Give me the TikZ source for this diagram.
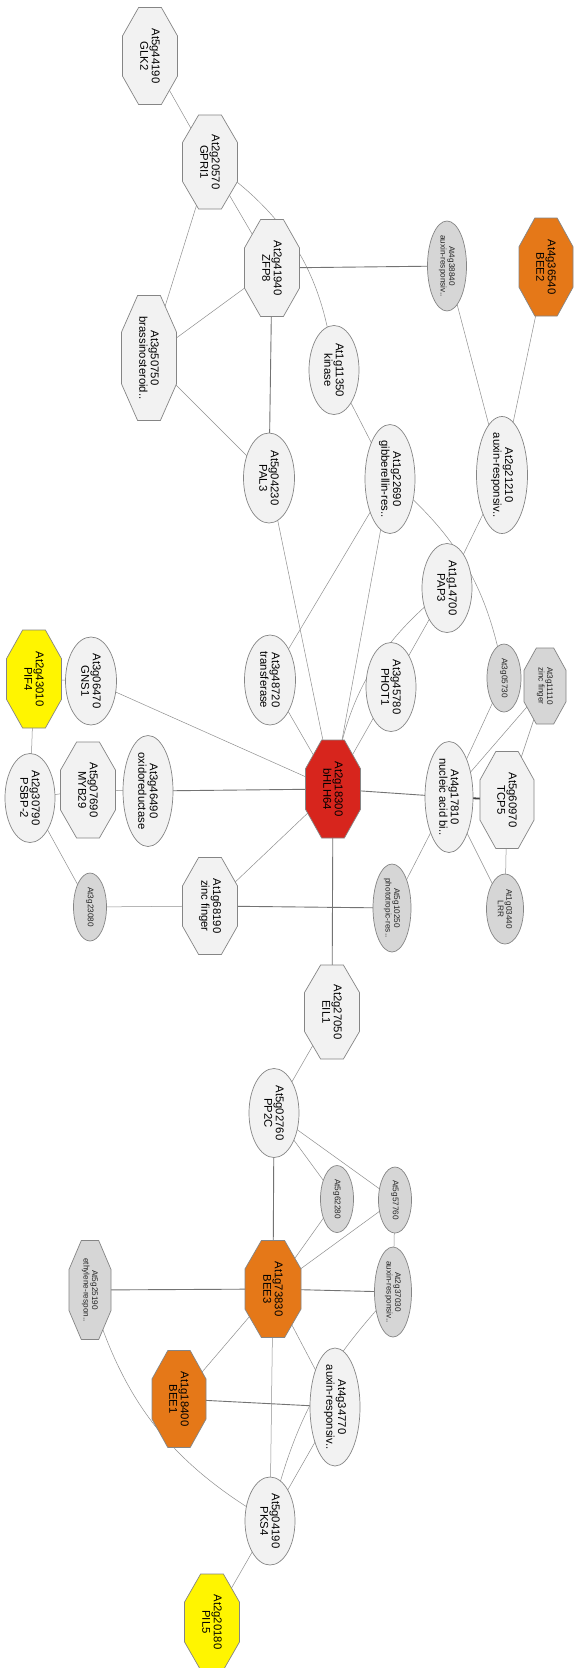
\documentclass[tikz,border=0pt]{standalone}
\usepackage{fontspec}
\setmainfont{Liberation Sans}
\usetikzlibrary{calc,shapes.geometric}
\pgfdeclarelayer{bg}
\pgfsetlayers{bg,main}
\definecolor{lf}{HTML}{F2F2F2}
\definecolor{gf}{HTML}{D6D6D6}
\definecolor{bd}{HTML}{858585}
\definecolor{ec}{HTML}{8F8F8F}
\definecolor{redf}{HTML}{D7251D}
\definecolor{orf}{HTML}{E57818}
\definecolor{yef}{HTML}{FFF500}
\tikzset{
 box/.style={rectangle, draw=none, inner sep=0pt, outer sep=0pt},
 lo/.style={fill=lf, draw=bd, line width=0.7pt},
 go/.style={fill=gf, draw=bd, line width=0.7pt},
 ro/.style={fill=redf, draw=bd, line width=0.7pt},
 oo/.style={fill=orf, draw=bd, line width=0.7pt},
 yo/.style={fill=yef, draw=bd, line width=0.7pt},
 bt/.style={rotate=-90, align=center, inner sep=0pt, text=black, font=\fontsize{11.3}{11.6}\selectfont},
 st/.style={rotate=-90, align=center, inner sep=0pt, text=black!85, font=\fontsize{8.2}{8.5}\selectfont},
 e1/.style={draw=ec, line width=0.5pt},
 e2/.style={draw=black!55, line width=0.9pt},
 e3/.style={draw=black!75, line width=1.8pt},
}
\newcommand\octn[8]{%
 \node[box, minimum width=#6pt, minimum height=#7pt] (#3) at (#4,#5) {};
 \path[#1] ($(#3.north west)!0.293!(#3.north east)$) -- ($(#3.north west)!0.707!(#3.north east)$)
   -- ($(#3.north east)!0.293!(#3.south east)$) -- ($(#3.north east)!0.707!(#3.south east)$)
   -- ($(#3.south east)!0.293!(#3.south west)$) -- ($(#3.south east)!0.707!(#3.south west)$)
   -- ($(#3.south west)!0.293!(#3.north west)$) -- ($(#3.south west)!0.707!(#3.north west)$) -- cycle;
 \node[#2] (#3-t) at (#3) {#8};
}
\newcommand\elln[8]{%
 \node[#1, ellipse, inner sep=0pt, minimum width=#6pt, minimum height=#7pt] (#3) at (#4,#5) {};
 \node[#2] (#3-t) at (#3) {#8};
}
\begin{document}
\begin{tikzpicture}[x=1pt,y=-1pt]
\useasboundingbox (0,0) rectangle (574,1668);
\octn{lo}{bt}{glk2}{150}{56}{55}{97}{At5g44190\\GLK2}
\octn{lo}{bt}{gpri1}{210}{162}{55}{94}{At2g20570\\GPRI1}
\octn{lo}{bt}{zfp8}{272}{268}{55}{97}{At2g41940\\ZFP8}
\octn{lo}{bt}{br}{149}{358}{55}{125}{At3g50750\\brassinosteroid..}
\elln{go}{st}{a38840}{447}{266}{39}{90}{At4g38840\\auxin-responsiv..}
\octn{oo}{bt}{bee2}{546}{267}{54}{98}{At4g36540\\BEE2}
\elln{lo}{bt}{kin}{334}{370}{50}{89}{At1g11350\\kinase}
\elln{lo}{bt}{pal3}{269}{478}{51}{90}{At5g04230\\PAL3}
\elln{lo}{bt}{gib}{390}{479}{50}{109}{At1g22690\\gibberellin-res..}
\elln{lo}{bt}{a21210}{502}{475}{51}{117}{At2g21210\\auxin-responsiv..}
\elln{lo}{bt}{pap3}{447}{588}{50}{89}{At1g14700\\PAP3}
\elln{lo}{bt}{trans}{270}{680}{51}{90}{At3g48720\\transferase}
\elln{lo}{bt}{phot1}{391}{687}{50}{89}{At3g45780\\PHOT1}
\elln{go}{st}{a05730}{504}{678}{34}{68}{At3g05730}
\octn{go}{st}{a11110}{545}{686}{42}{76}{At3g11110\\zinc finger}
\octn{yo}{bt}{pif4}{34}{679}{55}{98}{At2g43010\\PIF4}
\elln{lo}{bt}{gns1}{91}{681}{51}{88}{At3g06470\\GNS1}
\octn{ro}{bt}{bhlh}{333}{789}{55}{98}{At2g18300\\bHLH64}
\elln{lo}{bt}{psbp}{30}{798}{50}{89}{At2g30790\\PSBP-2}
\octn{lo}{bt}{myb29}{88}{790}{55}{96}{At5g07690\\MYB29}
\elln{lo}{bt}{oxr}{148}{791}{50}{111}{At3g46490\\oxidoreductase}
\elln{lo}{bt}{nab}{449}{797}{48}{111}{At4g17810\\nucleic acid bi..}
\octn{lo}{bt}{tcp5}{507}{800}{54}{97}{At5g60970\\TCP5}
\elln{go}{st}{a23080}{90}{907}{33}{68}{At3g23080}
\octn{lo}{bt}{zf}{210}{906}{55}{97}{At1g68190\\zinc finger}
\elln{go}{st}{a10250}{392}{908}{38}{88}{At5g10250\\phototropic-res..}
\elln{go}{st}{lrr}{505}{909}{37}{70}{At1g03440\\LRR}
\octn{lo}{bt}{eil1}{332}{1012}{55}{94}{At2g27050\\EIL1}
\elln{lo}{bt}{pp2c}{274}{1113}{50}{89}{At5g02760\\PP2C}
\elln{go}{st}{a62280}{337}{1199}{33}{67}{At5g62280}
\elln{go}{st}{a57760}{395}{1200}{33}{66}{At5g57760}
\octn{go}{st}{eth}{90}{1290}{42}{99}{At5g25190\\ethylene-respon..}
\octn{oo}{bt}{bee3}{273}{1289}{56}{97}{At1g73830\\BEE3}
\elln{go}{st}{a37030}{393}{1292}{37}{90}{At2g37030\\auxin-responsiv..}
\octn{oo}{bt}{bee1}{179}{1399}{54}{97}{At1g18400\\BEE1}
\elln{lo}{bt}{a34770}{335}{1407}{50}{118}{At4g34770\\auxin-responsiv..}
\elln{lo}{bt}{pks4}{270}{1521}{50}{88}{At5g04190\\PKS4}
\octn{yo}{bt}{pil5}{212}{1622}{55}{96}{At2g20180\\PIL5}
\begin{pgfonlayer}{bg}
\fill[white] (0,0) rectangle (574,1668);
\foreach \a/\b in {glk2/gpri1, gpri1/zfp8, gpri1/br, zfp8/br, br/pal3, a38840/a21210, bee2/a21210,
  kin/gib, pal3/bhlh, gib/bhlh, gib/trans, a21210/pap3, pap3/phot1, phot1/bhlh, trans/bhlh,
  gns1/pif4, gns1/bhlh, pif4/psbp, psbp/myb29, myb29/oxr, nab/a05730, nab/a11110, tcp5/a11110,
  nab/a10250, nab/lrr, tcp5/lrr, bhlh/zf, psbp/a23080, a23080/zf, eil1/pp2c, pp2c/a62280,
  pp2c/a57760, a62280/bee3, a57760/bee3, a57760/a37030, bee3/bee1, bee3/a34770, bee3/pks4,
  a34770/pks4, pks4/pil5}
  \draw[e1] (\a.center) -- (\b.center);
\foreach \a/\b in {zfp8/a38840, zfp8/pal3, oxr/bhlh, bhlh/nab, zf/a10250, bhlh/eil1, pp2c/bee3,
  bee3/eth, bee3/a37030, bee1/a34770}
  \draw[e2] (\a.center) -- (\b.center);
\draw[e3] (nab.center) -- (tcp5.center);
\draw[e1] (gpri1.center) to[bend left=25] (kin.center);
\draw[e1] (gib.center) to[bend left=20] (a05730.center);
\draw[e1] (pap3.center) to[bend right=22] (bhlh.center);
\draw[e1] (a37030.center) to[bend right=15] (pks4.center);
\draw[e1] (eth.center) to[bend right=22] (pks4.center);
\end{pgfonlayer}
\end{tikzpicture}
\end{document}
